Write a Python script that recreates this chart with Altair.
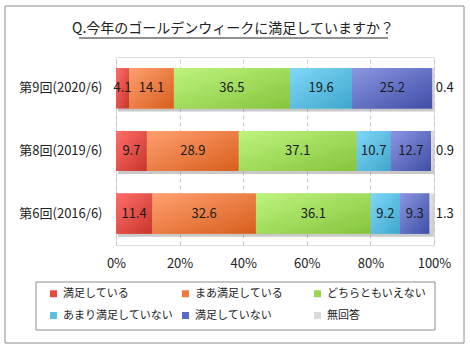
import altair as alt
import pandas as pd

title_text = "Q.今年のゴールデンウィークに満足していますか？"
surveys = ["第9回(2020/6)", "第8回(2019/6)", "第6回(2016/6)"]
categories = ["満足している", "まあ満足している", "どちらともいえない",
              "あまり満足していない", "満足していない", "無回答"]
v_satisfied = [4.1, 9.7, 11.4]
v_somewhat = [14.1, 28.9, 32.6]
v_neutral = [36.5, 37.1, 36.1]
v_notvery = [19.6, 10.7, 9.2]
v_not = [25.2, 12.7, 9.3]
v_noanswer = [0.4, 0.9, 1.3]
x_ticks = [0, 20, 40, 60, 80, 100]

flat_colors = ["#e64a3c", "#f07a3a", "#9bd650", "#5ac0e8", "#5a6ac6", "#d9d9d9"]
grad_stops = [
    ("#ff6e6a", "#c8352a"),
    ("#ffa070", "#d85e1c"),
    ("#bdf47e", "#86c43c"),
    ("#80d8f8", "#3ea6cc"),
    ("#8c96e2", "#3e4ea6"),
    ("#e6e6e6", "#c6c6c6"),
]

series = [v_satisfied, v_somewhat, v_neutral, v_notvery, v_not, v_noanswer]
rows = []
for ci, (cat, vals) in enumerate(zip(categories, series)):
    for si, s in enumerate(surveys):
        rows.append({"survey": s, "category": cat, "order": ci, "value": vals[si]})
df = pd.DataFrame(rows)

FONT = "Noto Sans CJK JP"

base = alt.Chart(df).transform_stack(
    stack="value", groupby=["survey"], sort=[alt.SortField("order")], as_=["x0", "x1"]
)

y_enc = alt.Y("survey:N", sort=surveys,
              scale=alt.Scale(paddingInner=0.36, paddingOuter=0.18),
              axis=alt.Axis(title=None, ticks=False, domain=False, labelFontSize=13,
                            labelPadding=14, labelColor="#222222", labelFont=FONT))
x_enc = alt.X("x0:Q", scale=alt.Scale(domain=[0, 100], nice=False),
              axis=alt.Axis(title=None, values=x_ticks, labelExpr="datum.value + '%'",
                            grid=True, gridDash=[4, 3], gridColor="#c8c8c8", ticks=False,
                            domain=False, labelPadding=12, labelFontSize=13,
                            labelFlush=False, labelOverlap=False,
                            labelColor="#222222", labelFont=FONT))

shadow = base.transform_aggregate(
    total="sum(value)", groupby=["survey"]
).mark_bar(color="#888888", opacity=0.45, xOffset=2, yOffset=3).encode(
    x=alt.X("zero:Q", scale=alt.Scale(domain=[0, 100], nice=False)), x2="total:Q", y=y_enc
).transform_calculate(zero="0")

flat = base.mark_bar().encode(
    x=x_enc, x2="x1:Q", y=y_enc,
    color=alt.Color("category:N", sort=categories,
                    scale=alt.Scale(domain=categories, range=flat_colors),
                    legend=alt.Legend(title=None, orient="none", legendX=-68, legendY=231,
                                      direction="horizontal", columns=3, gridAlign="all",
                                      symbolType="square", symbolSize=49, symbolStrokeWidth=0,
                                      labelFontSize=11, labelFont=FONT, labelColor="#222222",
                                      labelOffset=4, rowPadding=10, columnPadding=7,
                                      padding=0, symbolOffset=0)),
)

grad_layers = []
for cat, (c1, c2) in zip(categories, grad_stops):
    grad_layers.append(
        base.transform_filter(alt.datum.category == cat).mark_bar(
            fill=alt.Gradient(gradient="linear", x1=0, y1=0, x2=1, y2=1,
                              stops=[alt.GradientStop(color=c1, offset=0),
                                     alt.GradientStop(color=c2, offset=1)])
        ).encode(x=x_enc, x2="x1:Q", y=y_enc)
    )

inner_labels = base.transform_filter(alt.datum.category != "無回答").transform_calculate(
    mid="(datum.x0 + datum.x1) / 2"
).mark_text(fontSize=13, color="#1a1a1a", font=FONT).encode(
    x="mid:Q", y=y_enc, text=alt.Text("value:Q", format=".1f")
)

outer_labels = base.transform_filter(alt.datum.category == "無回答").mark_text(
    fontSize=13, color="#1a1a1a", font=FONT, align="left", dx=2
).encode(x="x1:Q", y=y_enc, text=alt.Text("value:Q", format=".1f"))

one = pd.DataFrame({"a": [0]})
frame = alt.Chart(one).mark_rect(fill=None, stroke="#8c8c8c", strokeWidth=1).encode(
    x=alt.value(-111), x2=alt.value(348), y=alt.value(-51), y2=alt.value(286))
legend_box = alt.Chart(one).mark_rect(fill=None, stroke="#8c8c8c", strokeWidth=1).encode(
    x=alt.value(-80), x2=alt.value(319), y=alt.value(225), y2=alt.value(273))
title = alt.Chart(one).mark_text(fontSize=14, font=FONT, color="#222222",
                                 baseline="middle", align="center").encode(
    x=alt.value(117), y=alt.value(-28), text=alt.value(title_text))
underline = alt.Chart(one).mark_rule(color="#222222", strokeWidth=1).encode(
    x=alt.value(-37), x2=alt.value(272), y=alt.value(-19))

chart = alt.layer(
    frame, legend_box, title, underline, shadow, flat, *grad_layers, inner_labels, outer_labels
).resolve_scale(x="shared").properties(
    width=318, height=188, autosize="none",
    padding={"left": 116, "top": 57, "right": 36, "bottom": 105},
).configure_view(stroke="#8c8c8c", strokeWidth=1).configure(background="white")

chart.save("out.html", embed_options={"renderer": "svg", "actions": False})
